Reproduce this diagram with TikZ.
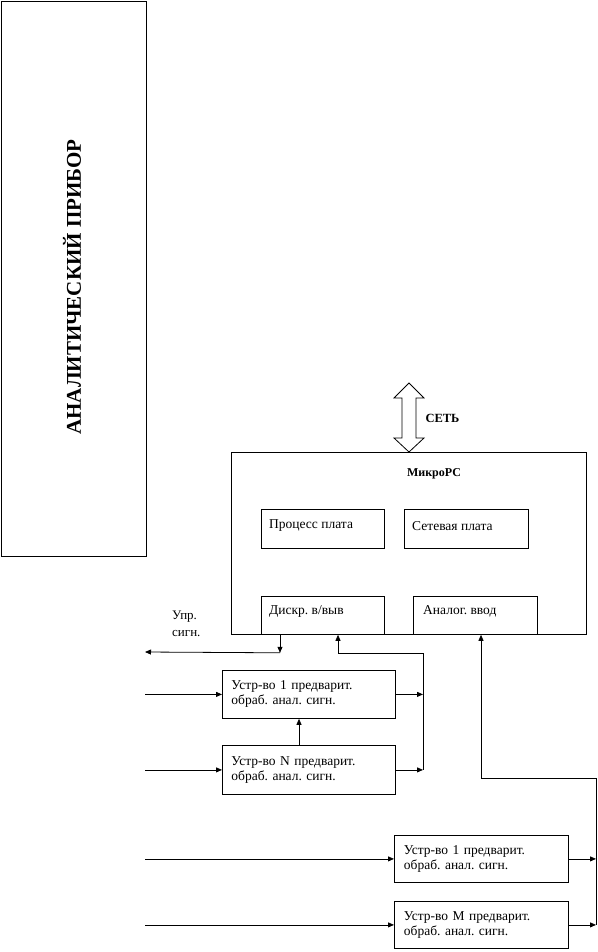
\documentclass[tikz,border=0pt]{standalone}
\usepackage{fontspec}
\setmainfont{Liberation Serif}
\usetikzlibrary{positioning,arrows.meta}
\frenchspacing

\begin{document}
\begin{tikzpicture}[x=1pt,y=-1pt,
  box/.style={draw,line width=0.8pt,anchor=north west,inner sep=0pt},
  dev/.style={box,minimum width=173,minimum height=48,text width=155,align=left,
    font=\fontsize{13.5}{15}\selectfont},
  brd/.style={box,minimum width=123,minimum height=38},
  txt/.style={inner sep=0pt,anchor=west,font=\fontsize{13.5}{14}\selectfont},
  sig/.style={line width=0.8pt,-{Triangle[length=6pt,width=5pt]}},
  wire/.style={line width=0.8pt}]
\useasboundingbox (0,0) rectangle (597,952);

% instrument
\node[box,line width=1.3pt,minimum width=145,minimum height=555] (instr) at (1,1) {};
\node[rotate=90,font=\bfseries\fontsize{21}{21}\selectfont] (instrlbl) at (72,287) {АНАЛИТИЧЕСКИЙ ПРИБОР};

% MicroPC and its boards
\node[box,minimum width=355,minimum height=182] (mpc) at (231,452) {};
\node[font=\bfseries\fontsize{12}{12}\selectfont] (mpclbl) at (434,474) {МикроPC};
\node[brd,minimum height=39] (proc) at (261,509) {};
\node[txt] (proclbl) at ([shift={(8,17)}]proc.north west) {Процесс плата};
\node[brd,minimum width=124,minimum height=39] (netb) at (404,509) {};
\node[txt] (netblbl) at ([shift={(8,17)}]netb.north west) {Сетевая плата};
\node[brd] (dio) at (261,596) {};
\node[txt] (diolbl) at ([shift={(8,15)}]dio.north west) {Дискр. в/выв};
\node[brd,minimum width=124] (ain) at (413,596) {};
\node[txt] (ainlbl) at ([shift={(10,15)}]ain.north west) {Аналог. ввод};

% network
\coordinate (nettip) at ([shift={(178,-69)}]mpc.north west);
\draw[wire,fill=white] (nettip) -- ++(15,15) -- ++(-8,0) -- ++(0,40) -- ++(8,0) -- ++(-15,14)
  -- ++(-15,-14) -- ++(8,0) -- ++(0,-40) -- ++(-8,0) -- cycle;
\node[anchor=west,font=\bfseries\fontsize{12.5}{12}\selectfont] (netlbl) at (422,418) {СЕТЬ};

% preprocessing devices
\node[dev] (d1) at (222,670) {Устр-во 1 предварит.\\обраб. анал. сигн.};
\node[dev,minimum height=49] (dn) at (222,745) {Устр-во N предварит.\\обраб. анал. сигн.};
\node[dev,minimum width=174,minimum height=47] (r1) at (394,835) {Устр-во 1 предварит.\\обраб. анал. сигн.};
\node[dev,minimum width=174,minimum height=47] (rm) at (394,901) {Устр-во M предварит.\\обраб. анал. сигн.};

% control signals
\node[txt,anchor=north west,align=left,font=\fontsize{13}{17}\selectfont] (ctllbl) at (172,611) {Упр.\\сигн.};
\coordinate (ctl) at ([shift={(19,18)}]dio.south west);
\coordinate (ctlout) at (145,652);
\draw[sig] ([shift={(19,0)}]dio.south west) -- (ctl);
\draw[sig] (ctl) -- (ctlout);

% connectors
\coordinate (lft) at (145,0);
\coordinate (bus) at (423,653);
\coordinate (dioin) at ([shift={(77,0)}]dio.south west);
\coordinate (rbus) at (596,778);
\coordinate (ainin) at ([shift={(68,0)}]ain.south west);
\foreach \n in {d1,dn,r1,rm}
  \draw[sig] (\n.west -| lft) -- (\n.west);
\draw[sig] (d1.east) -- (d1.east -| bus);
\draw[sig] (dn.east) -- (dn.east -| bus);
\draw[sig] (dn.east -| bus) -- (bus) -- (bus -| dioin) -- (dioin);
\draw[sig] ([shift={(77,0)}]dn.north west) -- ([shift={(77,0)}]d1.south west);
\draw[sig] (r1.east) -- (r1.east -| rbus);
\draw[sig] (rm.east) -- (rm.east -| rbus);
\draw[sig] (rm.east -| rbus) -- (rbus) -- (rbus -| ainin) -- (ainin);
\end{tikzpicture}
\end{document}
